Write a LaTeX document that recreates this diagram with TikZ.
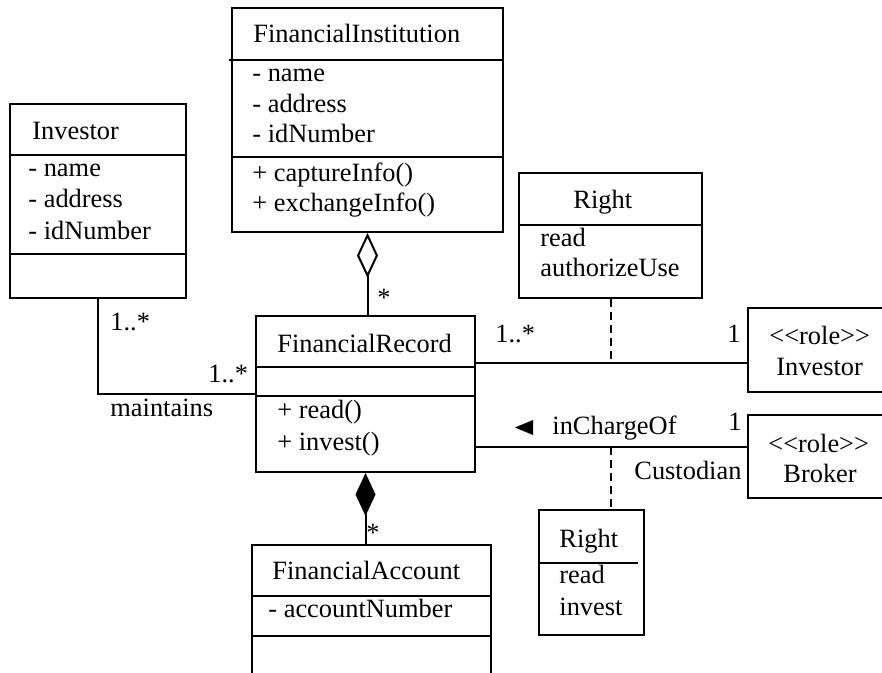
\documentclass[tikz,border=0pt]{standalone}
\usepackage{fontspec}
\setmainfont{Liberation Serif}
\usetikzlibrary{arrows.meta,fit}

\begin{document}
\begin{tikzpicture}[x=0.5pt,y=-0.5pt,line cap=butt,line join=miter,
  classbox/.style={draw,line width=1pt,inner sep=0pt},
  sep/.style={line width=1pt},
  assoc/.style={line width=1pt},
  anchorline/.style={line width=1pt,dash pattern=on 4pt off 2.5pt},
  lbl/.style={inner sep=0pt,anchor=base west,font=\fontsize{13.2}{15.5}\selectfont},
  mult/.style={inner sep=0pt,anchor=north west,font=\fontsize{13.2}{15.5}\selectfont}]
\useasboundingbox (0,0) rectangle (882,673);
\clip (0,0) rectangle (882,673);
\node[classbox,fit={(10,104) (186,298)}] (inv) {};
\node[classbox,fit={(232,8) (503,232)}] (fi) {};
\node[classbox,fit={(519,173) (702,298)}] (right1) {};
\node[classbox,fit={(256,316) (475,472)}] (rec) {};
\node[classbox,fit={(748,308) (892,392)}] (rinv) {};
\node[classbox,fit={(748,415) (892,498)}] (broker) {};
\node[classbox,fit={(539,510) (644,635)}] (right2) {};
\node[classbox,fit={(252,545) (491,692)}] (acc) {};
\draw[sep] (inv.west |- 0,155) -- (inv.east |- 0,155);
\draw[sep] (inv.west |- 0,254) -- (inv.east |- 0,254);
\draw[sep] (229,60) -- (fi.east |- 0,60);
\draw[sep] (fi.west |- 0,157) -- (fi.east |- 0,157);
\draw[sep] (right1.west |- 0,225) -- (right1.east |- 0,225);
\draw[sep] (rec.west |- 0,367) -- (rec.east |- 0,367);
\draw[sep] (rec.west |- 0,396) -- (rec.east |- 0,396);
\draw[sep] (right2.west |- 0,563) -- (638,563);
\draw[sep] (acc.west |- 0,596) -- (acc.east |- 0,596);
\draw[sep] (acc.west |- 0,636) -- (acc.east |- 0,636);
\node[lbl] (inv-name) at (32,140) {Investor};
\node[lbl] (inv-a1) at (28,177) {- name};
\node[lbl] (inv-a2) at (28,208) {- address};
\node[lbl] (inv-a3) at (28,240) {- idNumber};
\node[lbl] (fi-name) at (253,43) {FinancialInstitution};
\node[lbl] (fi-a1) at (252,82) {- name};
\node[lbl] (fi-a2) at (252,113) {- address};
\node[lbl] (fi-a3) at (252,143) {- idNumber};
\node[lbl] (fi-m1) at (252,182) {+ captureInfo()};
\node[lbl] (fi-m2) at (252,212) {+ exchangeInfo()};
\node[lbl] (right1-name) at (573,209) {Right};
\node[lbl] (right1-a1) at (540,247) {read};
\node[lbl] (right1-a2) at (540,277) {authorizeUse};
\node[lbl] (rec-name) at (277,352) {FinancialRecord};
\node[lbl] (rec-m1) at (277,418) {+ read()};
\node[lbl] (rec-m2) at (277,450) {+ invest()};
\node[lbl] (acc-name) at (272,579) {FinancialAccount};
\node[lbl] (acc-a1) at (268,617) {- accountNumber};
\node[lbl] (right2-name) at (559,547) {Right};
\node[lbl] (right2-a1) at (559,583) {read};
\node[lbl] (right2-a2) at (559,615) {invest};
\node[lbl] (rinv-st) at (769,344) {<\kern0pt<role>\kern0pt>};
\node[lbl] (rinv-name) at (776,375) {Investor};
\node[lbl] (broker-st) at (768,452) {<\kern0pt<role>\kern0pt>};
\node[lbl] (broker-name) at (783,482) {Broker};
\draw[assoc] (inv.south) |- (rec.west);
\node[lbl] (m-inv) at (110,330) {1..*};
\node[lbl] (m-rec1) at (208,382) {1..*};
\node[lbl] (maintains) at (110,416) {maintains};
\draw[assoc,{Diamond[open,length=22.5pt,width=10.5pt]}-] (fi.south) -- (fi.south |- rec.north);
\node[mult] (m-fi) at (377,289) {*};
\draw[assoc,{Diamond[length=21.5pt,width=10pt]}-] (rec.south) -- (rec.south |- acc.north);
\node[mult] (m-acc) at (366,524) {*};
\draw[assoc] (rec.east |- 0,363) -- (rinv.west |- 0,363);
\node[lbl] (m-rec2) at (495,343) {1..*};
\node[lbl] (m-rinv) at (727,343) {1};
\draw[anchorline] (right1.south) -- (right1.south |- 0,363);
\draw[assoc] (rec.east |- 0,447) -- (broker.west |- 0,447);
\fill (533,420) -- (533,435) -- (515,427.5) -- cycle;
\node[lbl] (incharge) at (552,434) {inChargeOf};
\node[lbl] (m-broker) at (728,430) {1};
\node[lbl] (custodian) at (634,479) {Custodian};
\draw[anchorline] (right1.south |- 0,447) -- (right1.south |- right2.north);
\end{tikzpicture}
\end{document}
